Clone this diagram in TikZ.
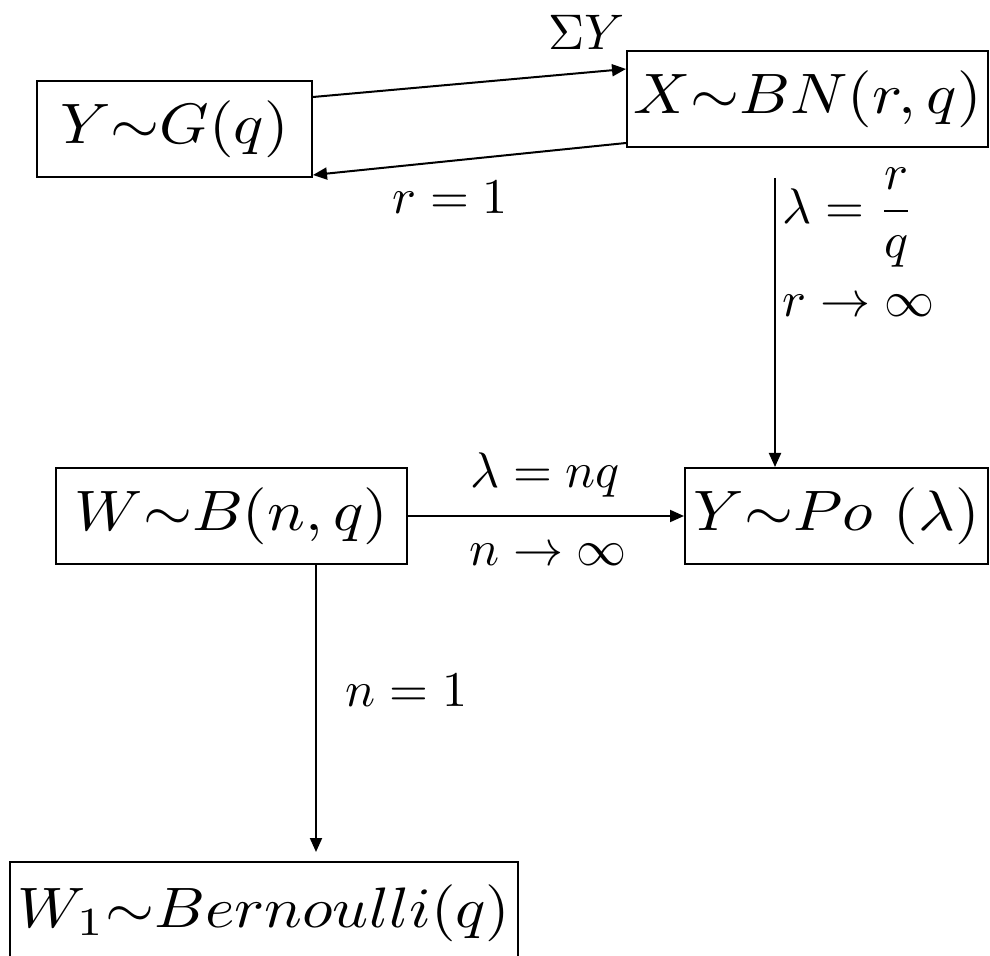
\documentclass[tikz,border=0pt]{standalone}
\usepackage{amsmath}
\usepackage{graphicx}
\usetikzlibrary{arrows.meta}
\newcommand{\boxtxt}[1]{\scalebox{3.15}[2.85]{$#1$}}
\newcommand{\lbltxt}[1]{\scalebox{2.5}{$#1$}}
\begin{document}
\begin{tikzpicture}[x=0.5pt,y=-0.5pt,
  box/.style={draw, line width=1pt, inner sep=0pt, minimum height=48pt},
  lbl/.style={inner sep=0pt},
  arr/.style={line width=1pt, -{Triangle[length=7pt,width=6pt]}}]
\useasboundingbox (0,0) rectangle (990,956);
\fill[white] (0,0) rectangle (990,956);
\clip (0,0) rectangle (990,956);
% boxes
\node[box, minimum width=137.5pt] (G) at (174.5,129) {\boxtxt{Y{\sim}G(q)}};
\node[box, minimum width=180.5pt] (BN) at (807.5,99) {\boxtxt{X{\sim}BN(r,q)}};
\node[box, minimum width=175.5pt] (B) at (231.5,516) {\boxtxt{W{\sim}B(n,q)}};
\node[box, minimum width=151.5pt] (Po) at (836.5,516) {\boxtxt{Y{\sim}Po\ (\lambda)}};
\node[box, minimum width=254pt, minimum height=51pt] (Be) at (264,913) {\boxtxt{W_1{\sim}Bernoulli(q)}};
% free ends
\coordinate (vtop) at (775,178);
\coordinate (btip) at (316,852);
% connectors
\draw[arr] ([yshift=16pt]G.east) -- ([yshift=15pt]BN.west);
\draw[arr] ([yshift=-22pt]BN.west) -- ([yshift=-23pt]G.east);
\draw[arr] (vtop) -- (vtop |- Po.north);
\draw[arr] (B.east) -- (Po.west);
\draw[arr] (B.south -| btip) -- (btip);
% labels
\node[lbl] (l1) at (587,32) {\lbltxt{\Sigma Y}};
\node[lbl] (l2) at (450,197) {\lbltxt{r=1}};
\node[lbl, anchor=west] (l3) at (782,218) {\lbltxt{\lambda=\dfrac{r}{q}}};
\node[lbl, anchor=west] (l4) at (782,306) {\lbltxt{r\to\infty}};
\node[lbl] (l5) at (545,475) {\lbltxt{\lambda=nq}};
\node[lbl] (l6) at (548,555) {\lbltxt{n\to\infty}};
\node[lbl, anchor=west] (l7) at (345,690) {\lbltxt{n=1}};
\end{tikzpicture}
\end{document}
